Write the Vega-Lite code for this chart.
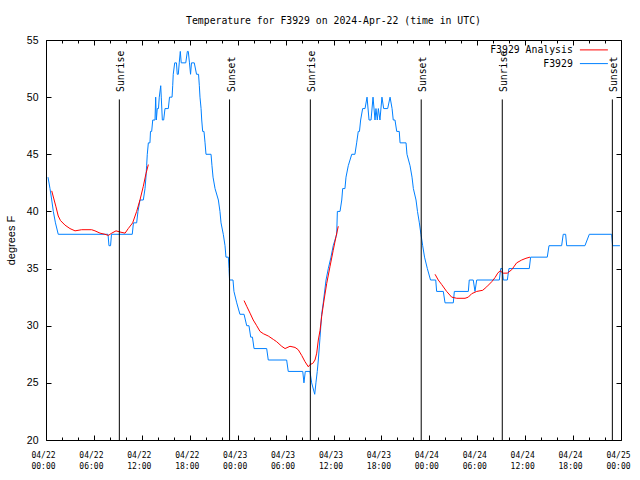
{
  "$schema": "https://vega.github.io/schema/vega-lite/v6.json",
  "width": 575,
  "height": 400,
  "autosize": {"type": "none"},
  "padding": {"left": 46, "top": 40, "right": 19, "bottom": 40},
  "background": "white",
  "config": {
    "view": {"stroke": "#000", "strokeWidth": 1},
    "axis": {"tickColor": "#000", "tickWidth": 1, "labelColor": "#000", "titleColor": "#000", "domain": false, "grid": false}
  },
  "title": {
    "text": "Temperature for F3929 on 2024-Apr-22 (time in UTC)",
    "font": "DejaVu Sans Mono",
    "fontSize": 9.8,
    "fontWeight": "normal",
    "color": "#000",
    "anchor": "middle",
    "offset": 9
  },
  "datasets": {
    "obs": [
      {"s": "F3929", "g": 1, "t": "2024-04-22T00:15Z", "v": 43},
      {"s": "F3929", "g": 1, "t": "2024-04-22T00:30Z", "v": 42},
      {"s": "F3929", "g": 1, "t": "2024-04-22T00:43Z", "v": 41},
      {"s": "F3929", "g": 1, "t": "2024-04-22T00:55Z", "v": 40},
      {"s": "F3929", "g": 1, "t": "2024-04-22T01:11Z", "v": 39},
      {"s": "F3929", "g": 1, "t": "2024-04-22T01:32Z", "v": 38},
      {"s": "F3929", "g": 1, "t": "2024-04-22T07:46Z", "v": 38},
      {"s": "F3929", "g": 1, "t": "2024-04-22T07:53Z", "v": 37},
      {"s": "F3929", "g": 1, "t": "2024-04-22T08:05Z", "v": 37},
      {"s": "F3929", "g": 1, "t": "2024-04-22T08:12Z", "v": 38},
      {"s": "F3929", "g": 1, "t": "2024-04-22T10:48Z", "v": 38},
      {"s": "F3929", "g": 1, "t": "2024-04-22T10:57Z", "v": 39},
      {"s": "F3929", "g": 1, "t": "2024-04-22T11:21Z", "v": 39},
      {"s": "F3929", "g": 1, "t": "2024-04-22T11:31Z", "v": 40},
      {"s": "F3929", "g": 1, "t": "2024-04-22T11:46Z", "v": 41},
      {"s": "F3929", "g": 1, "t": "2024-04-22T12:11Z", "v": 41},
      {"s": "F3929", "g": 1, "t": "2024-04-22T12:24Z", "v": 42},
      {"s": "F3929", "g": 1, "t": "2024-04-22T12:31Z", "v": 43},
      {"s": "F3929", "g": 1, "t": "2024-04-22T12:36Z", "v": 44},
      {"s": "F3929", "g": 1, "t": "2024-04-22T12:41Z", "v": 45},
      {"s": "F3929", "g": 1, "t": "2024-04-22T12:49Z", "v": 46},
      {"s": "F3929", "g": 1, "t": "2024-04-22T13:01Z", "v": 46},
      {"s": "F3929", "g": 1, "t": "2024-04-22T13:05Z", "v": 47},
      {"s": "F3929", "g": 1, "t": "2024-04-22T13:14Z", "v": 47},
      {"s": "F3929", "g": 1, "t": "2024-04-22T13:22Z", "v": 48},
      {"s": "F3929", "g": 1, "t": "2024-04-22T13:39Z", "v": 48},
      {"s": "F3929", "g": 1, "t": "2024-04-22T13:44Z", "v": 50},
      {"s": "F3929", "g": 1, "t": "2024-04-22T13:49Z", "v": 48},
      {"s": "F3929", "g": 1, "t": "2024-04-22T13:56Z", "v": 49},
      {"s": "F3929", "g": 1, "t": "2024-04-22T14:05Z", "v": 49},
      {"s": "F3929", "g": 1, "t": "2024-04-22T14:11Z", "v": 50},
      {"s": "F3929", "g": 1, "t": "2024-04-22T14:22Z", "v": 51},
      {"s": "F3929", "g": 1, "t": "2024-04-22T14:26Z", "v": 50},
      {"s": "F3929", "g": 1, "t": "2024-04-22T14:34Z", "v": 48},
      {"s": "F3929", "g": 1, "t": "2024-04-22T14:44Z", "v": 48},
      {"s": "F3929", "g": 1, "t": "2024-04-22T14:54Z", "v": 49},
      {"s": "F3929", "g": 1, "t": "2024-04-22T15:19Z", "v": 49},
      {"s": "F3929", "g": 1, "t": "2024-04-22T15:28Z", "v": 50},
      {"s": "F3929", "g": 1, "t": "2024-04-22T15:47Z", "v": 50},
      {"s": "F3929", "g": 1, "t": "2024-04-22T15:52Z", "v": 51},
      {"s": "F3929", "g": 1, "t": "2024-04-22T15:56Z", "v": 52},
      {"s": "F3929", "g": 1, "t": "2024-04-22T16:07Z", "v": 53},
      {"s": "F3929", "g": 1, "t": "2024-04-22T16:20Z", "v": 53},
      {"s": "F3929", "g": 1, "t": "2024-04-22T16:26Z", "v": 52},
      {"s": "F3929", "g": 1, "t": "2024-04-22T16:34Z", "v": 52},
      {"s": "F3929", "g": 1, "t": "2024-04-22T16:41Z", "v": 53},
      {"s": "F3929", "g": 1, "t": "2024-04-22T16:49Z", "v": 54},
      {"s": "F3929", "g": 1, "t": "2024-04-22T16:56Z", "v": 53},
      {"s": "F3929", "g": 1, "t": "2024-04-22T17:30Z", "v": 53},
      {"s": "F3929", "g": 1, "t": "2024-04-22T17:42Z", "v": 54},
      {"s": "F3929", "g": 1, "t": "2024-04-22T17:49Z", "v": 54},
      {"s": "F3929", "g": 1, "t": "2024-04-22T17:58Z", "v": 53},
      {"s": "F3929", "g": 1, "t": "2024-04-22T18:06Z", "v": 52},
      {"s": "F3929", "g": 1, "t": "2024-04-22T18:13Z", "v": 53},
      {"s": "F3929", "g": 1, "t": "2024-04-22T18:34Z", "v": 53},
      {"s": "F3929", "g": 1, "t": "2024-04-22T18:51Z", "v": 52},
      {"s": "F3929", "g": 1, "t": "2024-04-22T19:06Z", "v": 52},
      {"s": "F3929", "g": 1, "t": "2024-04-22T19:12Z", "v": 51},
      {"s": "F3929", "g": 1, "t": "2024-04-22T19:17Z", "v": 50},
      {"s": "F3929", "g": 1, "t": "2024-04-22T19:25Z", "v": 49},
      {"s": "F3929", "g": 1, "t": "2024-04-22T19:30Z", "v": 48},
      {"s": "F3929", "g": 1, "t": "2024-04-22T19:37Z", "v": 47},
      {"s": "F3929", "g": 1, "t": "2024-04-22T19:47Z", "v": 47},
      {"s": "F3929", "g": 1, "t": "2024-04-22T19:55Z", "v": 46},
      {"s": "F3929", "g": 1, "t": "2024-04-22T20:02Z", "v": 45},
      {"s": "F3929", "g": 1, "t": "2024-04-22T20:40Z", "v": 45},
      {"s": "F3929", "g": 1, "t": "2024-04-22T20:47Z", "v": 44},
      {"s": "F3929", "g": 1, "t": "2024-04-22T20:55Z", "v": 43},
      {"s": "F3929", "g": 1, "t": "2024-04-22T21:10Z", "v": 42},
      {"s": "F3929", "g": 1, "t": "2024-04-22T21:35Z", "v": 41},
      {"s": "F3929", "g": 1, "t": "2024-04-22T21:47Z", "v": 40},
      {"s": "F3929", "g": 1, "t": "2024-04-22T21:55Z", "v": 39},
      {"s": "F3929", "g": 1, "t": "2024-04-22T22:12Z", "v": 38},
      {"s": "F3929", "g": 1, "t": "2024-04-22T22:25Z", "v": 37},
      {"s": "F3929", "g": 1, "t": "2024-04-22T22:32Z", "v": 36},
      {"s": "F3929", "g": 1, "t": "2024-04-22T22:50Z", "v": 36},
      {"s": "F3929", "g": 1, "t": "2024-04-22T22:55Z", "v": 35},
      {"s": "F3929", "g": 1, "t": "2024-04-22T22:59Z", "v": 34},
      {"s": "F3929", "g": 1, "t": "2024-04-22T23:25Z", "v": 34},
      {"s": "F3929", "g": 1, "t": "2024-04-22T23:32Z", "v": 33},
      {"s": "F3929", "g": 1, "t": "2024-04-22T23:53Z", "v": 32},
      {"s": "F3929", "g": 1, "t": "2024-04-23T00:17Z", "v": 31},
      {"s": "F3929", "g": 1, "t": "2024-04-23T00:48Z", "v": 31},
      {"s": "F3929", "g": 1, "t": "2024-04-23T01:08Z", "v": 30},
      {"s": "F3929", "g": 1, "t": "2024-04-23T01:25Z", "v": 30},
      {"s": "F3929", "g": 1, "t": "2024-04-23T01:38Z", "v": 29},
      {"s": "F3929", "g": 1, "t": "2024-04-23T01:51Z", "v": 29},
      {"s": "F3929", "g": 1, "t": "2024-04-23T02:03Z", "v": 28},
      {"s": "F3929", "g": 1, "t": "2024-04-23T03:38Z", "v": 28},
      {"s": "F3929", "g": 1, "t": "2024-04-23T03:50Z", "v": 27},
      {"s": "F3929", "g": 1, "t": "2024-04-23T06:08Z", "v": 27},
      {"s": "F3929", "g": 1, "t": "2024-04-23T06:20Z", "v": 26},
      {"s": "F3929", "g": 1, "t": "2024-04-23T08:09Z", "v": 26},
      {"s": "F3929", "g": 1, "t": "2024-04-23T08:18Z", "v": 25},
      {"s": "F3929", "g": 1, "t": "2024-04-23T08:28Z", "v": 26},
      {"s": "F3929", "g": 1, "t": "2024-04-23T09:03Z", "v": 26},
      {"s": "F3929", "g": 1, "t": "2024-04-23T09:16Z", "v": 25},
      {"s": "F3929", "g": 1, "t": "2024-04-23T09:39Z", "v": 24},
      {"s": "F3929", "g": 1, "t": "2024-04-23T09:48Z", "v": 25},
      {"s": "F3929", "g": 1, "t": "2024-04-23T09:58Z", "v": 26},
      {"s": "F3929", "g": 1, "t": "2024-04-23T10:06Z", "v": 27},
      {"s": "F3929", "g": 1, "t": "2024-04-23T10:19Z", "v": 29},
      {"s": "F3929", "g": 1, "t": "2024-04-23T10:31Z", "v": 31},
      {"s": "F3929", "g": 1, "t": "2024-04-23T10:43Z", "v": 32},
      {"s": "F3929", "g": 1, "t": "2024-04-23T11:04Z", "v": 34},
      {"s": "F3929", "g": 1, "t": "2024-04-23T11:21Z", "v": 35},
      {"s": "F3929", "g": 1, "t": "2024-04-23T11:41Z", "v": 36},
      {"s": "F3929", "g": 1, "t": "2024-04-23T11:58Z", "v": 37},
      {"s": "F3929", "g": 1, "t": "2024-04-23T12:24Z", "v": 38},
      {"s": "F3929", "g": 1, "t": "2024-04-23T12:29Z", "v": 40},
      {"s": "F3929", "g": 1, "t": "2024-04-23T12:49Z", "v": 40},
      {"s": "F3929", "g": 1, "t": "2024-04-23T13:02Z", "v": 41},
      {"s": "F3929", "g": 1, "t": "2024-04-23T13:09Z", "v": 42},
      {"s": "F3929", "g": 1, "t": "2024-04-23T13:26Z", "v": 42},
      {"s": "F3929", "g": 1, "t": "2024-04-23T13:34Z", "v": 43},
      {"s": "F3929", "g": 1, "t": "2024-04-23T13:51Z", "v": 44},
      {"s": "F3929", "g": 1, "t": "2024-04-23T14:17Z", "v": 45},
      {"s": "F3929", "g": 1, "t": "2024-04-23T14:41Z", "v": 45},
      {"s": "F3929", "g": 1, "t": "2024-04-23T14:54Z", "v": 46},
      {"s": "F3929", "g": 1, "t": "2024-04-23T15:06Z", "v": 47},
      {"s": "F3929", "g": 1, "t": "2024-04-23T15:15Z", "v": 47},
      {"s": "F3929", "g": 1, "t": "2024-04-23T15:24Z", "v": 48},
      {"s": "F3929", "g": 1, "t": "2024-04-23T15:39Z", "v": 49},
      {"s": "F3929", "g": 1, "t": "2024-04-23T15:57Z", "v": 49},
      {"s": "F3929", "g": 1, "t": "2024-04-23T16:12Z", "v": 50},
      {"s": "F3929", "g": 1, "t": "2024-04-23T16:27Z", "v": 48},
      {"s": "F3929", "g": 1, "t": "2024-04-23T16:42Z", "v": 48},
      {"s": "F3929", "g": 1, "t": "2024-04-23T16:57Z", "v": 50},
      {"s": "F3929", "g": 1, "t": "2024-04-23T17:12Z", "v": 48},
      {"s": "F3929", "g": 1, "t": "2024-04-23T17:19Z", "v": 49},
      {"s": "F3929", "g": 1, "t": "2024-04-23T17:29Z", "v": 48},
      {"s": "F3929", "g": 1, "t": "2024-04-23T17:37Z", "v": 49},
      {"s": "F3929", "g": 1, "t": "2024-04-23T17:49Z", "v": 48},
      {"s": "F3929", "g": 1, "t": "2024-04-23T18:04Z", "v": 50},
      {"s": "F3929", "g": 1, "t": "2024-04-23T18:17Z", "v": 49},
      {"s": "F3929", "g": 1, "t": "2024-04-23T18:47Z", "v": 49},
      {"s": "F3929", "g": 1, "t": "2024-04-23T19:05Z", "v": 50},
      {"s": "F3929", "g": 1, "t": "2024-04-23T19:20Z", "v": 49},
      {"s": "F3929", "g": 1, "t": "2024-04-23T19:29Z", "v": 48},
      {"s": "F3929", "g": 1, "t": "2024-04-23T19:42Z", "v": 48},
      {"s": "F3929", "g": 1, "t": "2024-04-23T19:55Z", "v": 47},
      {"s": "F3929", "g": 1, "t": "2024-04-23T20:14Z", "v": 47},
      {"s": "F3929", "g": 1, "t": "2024-04-23T20:20Z", "v": 46},
      {"s": "F3929", "g": 1, "t": "2024-04-23T21:05Z", "v": 46},
      {"s": "F3929", "g": 1, "t": "2024-04-23T21:12Z", "v": 45},
      {"s": "F3929", "g": 1, "t": "2024-04-23T21:35Z", "v": 44},
      {"s": "F3929", "g": 1, "t": "2024-04-23T21:50Z", "v": 43},
      {"s": "F3929", "g": 1, "t": "2024-04-23T22:00Z", "v": 42},
      {"s": "F3929", "g": 1, "t": "2024-04-23T22:20Z", "v": 41},
      {"s": "F3929", "g": 1, "t": "2024-04-23T22:31Z", "v": 40},
      {"s": "F3929", "g": 1, "t": "2024-04-23T22:45Z", "v": 39},
      {"s": "F3929", "g": 1, "t": "2024-04-23T22:57Z", "v": 38},
      {"s": "F3929", "g": 1, "t": "2024-04-23T23:10Z", "v": 37},
      {"s": "F3929", "g": 1, "t": "2024-04-23T23:24Z", "v": 36},
      {"s": "F3929", "g": 1, "t": "2024-04-23T23:45Z", "v": 35},
      {"s": "F3929", "g": 1, "t": "2024-04-24T00:09Z", "v": 34},
      {"s": "F3929", "g": 1, "t": "2024-04-24T00:48Z", "v": 34},
      {"s": "F3929", "g": 1, "t": "2024-04-24T00:55Z", "v": 33},
      {"s": "F3929", "g": 1, "t": "2024-04-24T01:45Z", "v": 33},
      {"s": "F3929", "g": 1, "t": "2024-04-24T01:58Z", "v": 32},
      {"s": "F3929", "g": 1, "t": "2024-04-24T03:00Z", "v": 32},
      {"s": "F3929", "g": 1, "t": "2024-04-24T03:08Z", "v": 33},
      {"s": "F3929", "g": 1, "t": "2024-04-24T04:53Z", "v": 33},
      {"s": "F3929", "g": 1, "t": "2024-04-24T05:00Z", "v": 34},
      {"s": "F3929", "g": 1, "t": "2024-04-24T05:30Z", "v": 34},
      {"s": "F3929", "g": 1, "t": "2024-04-24T05:43Z", "v": 33},
      {"s": "F3929", "g": 1, "t": "2024-04-24T05:56Z", "v": 34},
      {"s": "F3929", "g": 1, "t": "2024-04-24T08:46Z", "v": 34},
      {"s": "F3929", "g": 1, "t": "2024-04-24T08:56Z", "v": 35},
      {"s": "F3929", "g": 1, "t": "2024-04-24T09:08Z", "v": 35},
      {"s": "F3929", "g": 1, "t": "2024-04-24T09:16Z", "v": 34},
      {"s": "F3929", "g": 1, "t": "2024-04-24T09:46Z", "v": 34},
      {"s": "F3929", "g": 1, "t": "2024-04-24T09:58Z", "v": 35},
      {"s": "F3929", "g": 1, "t": "2024-04-24T12:31Z", "v": 35},
      {"s": "F3929", "g": 1, "t": "2024-04-24T12:41Z", "v": 36},
      {"s": "F3929", "g": 1, "t": "2024-04-24T14:46Z", "v": 36},
      {"s": "F3929", "g": 1, "t": "2024-04-24T14:59Z", "v": 37},
      {"s": "F3929", "g": 1, "t": "2024-04-24T16:34Z", "v": 37},
      {"s": "F3929", "g": 1, "t": "2024-04-24T16:46Z", "v": 38},
      {"s": "F3929", "g": 1, "t": "2024-04-24T17:04Z", "v": 38},
      {"s": "F3929", "g": 1, "t": "2024-04-24T17:12Z", "v": 37},
      {"s": "F3929", "g": 1, "t": "2024-04-24T19:29Z", "v": 37},
      {"s": "F3929", "g": 1, "t": "2024-04-24T20:02Z", "v": 38},
      {"s": "F3929", "g": 1, "t": "2024-04-24T22:50Z", "v": 38},
      {"s": "F3929", "g": 1, "t": "2024-04-24T22:57Z", "v": 37},
      {"s": "F3929", "g": 1, "t": "2024-04-24T23:52Z", "v": 37},

      {"s": "F3929 Analysis", "g": 2, "t": "2024-04-22T00:43Z", "v": 41.8},
      {"s": "F3929 Analysis", "g": 2, "t": "2024-04-22T01:15Z", "v": 40.4},
      {"s": "F3929 Analysis", "g": 2, "t": "2024-04-22T01:32Z", "v": 39.6},
      {"s": "F3929 Analysis", "g": 2, "t": "2024-04-22T01:49Z", "v": 39.2},
      {"s": "F3929 Analysis", "g": 2, "t": "2024-04-22T02:23Z", "v": 38.8},
      {"s": "F3929 Analysis", "g": 2, "t": "2024-04-22T03:00Z", "v": 38.5},
      {"s": "F3929 Analysis", "g": 2, "t": "2024-04-22T03:38Z", "v": 38.3},
      {"s": "F3929 Analysis", "g": 2, "t": "2024-04-22T04:28Z", "v": 38.4},
      {"s": "F3929 Analysis", "g": 2, "t": "2024-04-22T05:43Z", "v": 38.4},
      {"s": "F3929 Analysis", "g": 2, "t": "2024-04-22T06:08Z", "v": 38.3},
      {"s": "F3929 Analysis", "g": 2, "t": "2024-04-22T06:46Z", "v": 38.1},
      {"s": "F3929 Analysis", "g": 2, "t": "2024-04-22T07:23Z", "v": 38.0},
      {"s": "F3929 Analysis", "g": 2, "t": "2024-04-22T07:48Z", "v": 37.9},
      {"s": "F3929 Analysis", "g": 2, "t": "2024-04-22T08:14Z", "v": 38.1},
      {"s": "F3929 Analysis", "g": 2, "t": "2024-04-22T08:46Z", "v": 38.3},
      {"s": "F3929 Analysis", "g": 2, "t": "2024-04-22T09:16Z", "v": 38.2},
      {"s": "F3929 Analysis", "g": 2, "t": "2024-04-22T09:54Z", "v": 38.1},
      {"s": "F3929 Analysis", "g": 2, "t": "2024-04-22T10:18Z", "v": 38.5},
      {"s": "F3929 Analysis", "g": 2, "t": "2024-04-22T10:51Z", "v": 39.0},
      {"s": "F3929 Analysis", "g": 2, "t": "2024-04-22T11:21Z", "v": 40.0},
      {"s": "F3929 Analysis", "g": 2, "t": "2024-04-22T11:46Z", "v": 41.0},
      {"s": "F3929 Analysis", "g": 2, "t": "2024-04-22T12:11Z", "v": 42.2},
      {"s": "F3929 Analysis", "g": 2, "t": "2024-04-22T12:31Z", "v": 43.3},
      {"s": "F3929 Analysis", "g": 2, "t": "2024-04-22T12:49Z", "v": 44.1},

      {"s": "F3929 Analysis", "g": 3, "t": "2024-04-23T00:48Z", "v": 32.2},
      {"s": "F3929 Analysis", "g": 3, "t": "2024-04-23T01:08Z", "v": 31.7},
      {"s": "F3929 Analysis", "g": 3, "t": "2024-04-23T01:33Z", "v": 31.1},
      {"s": "F3929 Analysis", "g": 3, "t": "2024-04-23T01:57Z", "v": 30.5},
      {"s": "F3929 Analysis", "g": 3, "t": "2024-04-23T02:23Z", "v": 30.0},
      {"s": "F3929 Analysis", "g": 3, "t": "2024-04-23T02:48Z", "v": 29.5},
      {"s": "F3929 Analysis", "g": 3, "t": "2024-04-23T03:13Z", "v": 29.3},
      {"s": "F3929 Analysis", "g": 3, "t": "2024-04-23T03:50Z", "v": 29.1},
      {"s": "F3929 Analysis", "g": 3, "t": "2024-04-23T04:28Z", "v": 28.8},
      {"s": "F3929 Analysis", "g": 3, "t": "2024-04-23T04:53Z", "v": 28.6},
      {"s": "F3929 Analysis", "g": 3, "t": "2024-04-23T05:31Z", "v": 28.2},
      {"s": "F3929 Analysis", "g": 3, "t": "2024-04-23T05:56Z", "v": 28.0},
      {"s": "F3929 Analysis", "g": 3, "t": "2024-04-23T06:33Z", "v": 28.2},
      {"s": "F3929 Analysis", "g": 3, "t": "2024-04-23T07:11Z", "v": 28.1},
      {"s": "F3929 Analysis", "g": 3, "t": "2024-04-23T07:35Z", "v": 27.9},
      {"s": "F3929 Analysis", "g": 3, "t": "2024-04-23T08:01Z", "v": 27.4},
      {"s": "F3929 Analysis", "g": 3, "t": "2024-04-23T08:26Z", "v": 26.85},
      {"s": "F3929 Analysis", "g": 3, "t": "2024-04-23T08:51Z", "v": 26.4},
      {"s": "F3929 Analysis", "g": 3, "t": "2024-04-23T09:03Z", "v": 26.6},
      {"s": "F3929 Analysis", "g": 3, "t": "2024-04-23T09:24Z", "v": 26.7},
      {"s": "F3929 Analysis", "g": 3, "t": "2024-04-23T09:41Z", "v": 27.0},
      {"s": "F3929 Analysis", "g": 3, "t": "2024-04-23T09:54Z", "v": 27.6},
      {"s": "F3929 Analysis", "g": 3, "t": "2024-04-23T10:06Z", "v": 28.75},
      {"s": "F3929 Analysis", "g": 3, "t": "2024-04-23T10:19Z", "v": 29.6},
      {"s": "F3929 Analysis", "g": 3, "t": "2024-04-23T10:31Z", "v": 30.8},
      {"s": "F3929 Analysis", "g": 3, "t": "2024-04-23T10:49Z", "v": 32.25},
      {"s": "F3929 Analysis", "g": 3, "t": "2024-04-23T11:09Z", "v": 33.7},
      {"s": "F3929 Analysis", "g": 3, "t": "2024-04-23T11:34Z", "v": 35.2},
      {"s": "F3929 Analysis", "g": 3, "t": "2024-04-23T11:58Z", "v": 36.6},
      {"s": "F3929 Analysis", "g": 3, "t": "2024-04-23T12:19Z", "v": 37.8},
      {"s": "F3929 Analysis", "g": 3, "t": "2024-04-23T12:36Z", "v": 38.7},

      {"s": "F3929 Analysis", "g": 4, "t": "2024-04-24T00:43Z", "v": 34.5},
      {"s": "F3929 Analysis", "g": 4, "t": "2024-04-24T01:07Z", "v": 34.0},
      {"s": "F3929 Analysis", "g": 4, "t": "2024-04-24T01:33Z", "v": 33.6},
      {"s": "F3929 Analysis", "g": 4, "t": "2024-04-24T02:10Z", "v": 33.0},
      {"s": "F3929 Analysis", "g": 4, "t": "2024-04-24T02:48Z", "v": 32.5},
      {"s": "F3929 Analysis", "g": 4, "t": "2024-04-24T03:26Z", "v": 32.4},
      {"s": "F3929 Analysis", "g": 4, "t": "2024-04-24T04:28Z", "v": 32.4},
      {"s": "F3929 Analysis", "g": 4, "t": "2024-04-24T04:53Z", "v": 32.5},
      {"s": "F3929 Analysis", "g": 4, "t": "2024-04-24T05:18Z", "v": 32.8},
      {"s": "F3929 Analysis", "g": 4, "t": "2024-04-24T05:56Z", "v": 33.0},
      {"s": "F3929 Analysis", "g": 4, "t": "2024-04-24T06:41Z", "v": 33.1},
      {"s": "F3929 Analysis", "g": 4, "t": "2024-04-24T07:11Z", "v": 33.4},
      {"s": "F3929 Analysis", "g": 4, "t": "2024-04-24T07:49Z", "v": 33.85},
      {"s": "F3929 Analysis", "g": 4, "t": "2024-04-24T08:13Z", "v": 34.2},
      {"s": "F3929 Analysis", "g": 4, "t": "2024-04-24T08:34Z", "v": 34.6},
      {"s": "F3929 Analysis", "g": 4, "t": "2024-04-24T08:51Z", "v": 34.8},
      {"s": "F3929 Analysis", "g": 4, "t": "2024-04-24T09:16Z", "v": 34.6},
      {"s": "F3929 Analysis", "g": 4, "t": "2024-04-24T09:46Z", "v": 34.6},
      {"s": "F3929 Analysis", "g": 4, "t": "2024-04-24T10:19Z", "v": 34.9},
      {"s": "F3929 Analysis", "g": 4, "t": "2024-04-24T10:56Z", "v": 35.5},
      {"s": "F3929 Analysis", "g": 4, "t": "2024-04-24T11:34Z", "v": 35.75},
      {"s": "F3929 Analysis", "g": 4, "t": "2024-04-24T12:06Z", "v": 35.9},
      {"s": "F3929 Analysis", "g": 4, "t": "2024-04-24T12:36Z", "v": 36.0}
    ],
    "sun": [
      {"t": "2024-04-22T09:11Z", "e": "Sunrise"},
      {"t": "2024-04-22T22:59Z", "e": "Sunset"},
      {"t": "2024-04-23T09:06Z", "e": "Sunrise"},
      {"t": "2024-04-23T22:59Z", "e": "Sunset"},
      {"t": "2024-04-24T09:08Z", "e": "Sunrise"},
      {"t": "2024-04-24T22:55Z", "e": "Sunset"}
    ]
  },
  "layer": [
    {
      "data": {"name": "obs"},
      "mark": {"type": "line", "strokeWidth": 1, "interpolate": "linear"},
      "encoding": {
        "x": {
          "field": "t", "type": "temporal",
          "scale": {"type": "utc", "domain": [{"year": 2024, "month": 4, "date": 22, "utc": true}, {"year": 2024, "month": 4, "date": 25, "utc": true}]},
          "axis": {
            "orient": "bottom",
            "title": null,
            "values": [1713744000000, 1713751200000, 1713758400000, 1713765600000, 1713772800000, 1713780000000, 1713787200000, 1713794400000, 1713801600000, 1713808800000, 1713816000000, 1713823200000, 1713830400000, 1713837600000, 1713844800000, 1713852000000, 1713859200000, 1713866400000, 1713873600000, 1713880800000, 1713888000000, 1713895200000, 1713902400000, 1713909600000, 1713916800000, 1713924000000, 1713931200000, 1713938400000, 1713945600000, 1713952800000, 1713960000000, 1713967200000, 1713974400000, 1713981600000, 1713988800000, 1713996000000, 1714003200000],
            "labelExpr": "utchours(datum.value) % 6 == 0 ? [utcFormat(datum.value, '%m/%d'), utcFormat(datum.value, '%H:%M')] : ''",
            "tickSize": {"condition": {"test": "utchours(datum.value) % 6 == 0", "value": -5}, "value": -3},
            "labelFont": "DejaVu Sans Mono",
            "labelFontSize": 8,
            "labelLineHeight": 11,
            "labelBaseline": "top",
            "labelPadding": 16,
            "labelOffset": -3,
            "labelOverlap": false,
            "labelBound": false,
            "labelFlush": false
          }
        },
        "y": {
          "field": "v", "type": "quantitative",
          "scale": {"domain": [20, 55], "zero": false, "nice": false},
          "axis": {
            "orient": "left",
            "values": [20, 25, 30, 35, 40, 45, 50, 55],
            "tickSize": -5,
            "labelFont": "Liberation Sans",
            "labelFontSize": 10.5,
            "labelPadding": 13,
            "title": "degrees F",
            "titleFont": "Liberation Sans",
            "titleFontSize": 11,
            "titleFontWeight": "normal",
            "titleAngle": 270,
            "titleX": -35,
            "titleY": 200,
            "titleAlign": "center",
            "titleBaseline": "middle"
          }
        },
        "color": {
          "field": "s", "type": "nominal",
          "scale": {"domain": ["F3929 Analysis", "F3929"], "range": ["#ff0000", "#0080ff"]},
          "legend": {
            "orient": "none",
            "legendX": 535,
            "legendY": 5,
            "title": null,
            "symbolType": "M-5.6,0H5.6",
            "symbolSize": 25,
            "symbolStrokeWidth": 1,
            "symbolOffset": 8,
            "labelAlign": "right",
            "labelOffset": -26,
            "labelFont": "DejaVu Sans Mono",
            "labelFontSize": 9.8,
            "labelColor": "#000",
            "rowPadding": 2.7,
            "padding": 0
          }
        },
        "detail": {"field": "g", "type": "nominal"}
      }
    },
    {
      "data": {"name": "obs"},
      "mark": {"type": "point", "opacity": 0},
      "encoding": {
        "x": {
          "field": "t", "type": "temporal",
          "axis": {
            "orient": "top",
            "title": null,
            "labels": false,
            "values": [1713744000000, 1713751200000, 1713758400000, 1713765600000, 1713772800000, 1713780000000, 1713787200000, 1713794400000, 1713801600000, 1713808800000, 1713816000000, 1713823200000, 1713830400000, 1713837600000, 1713844800000, 1713852000000, 1713859200000, 1713866400000, 1713873600000, 1713880800000, 1713888000000, 1713895200000, 1713902400000, 1713909600000, 1713916800000, 1713924000000, 1713931200000, 1713938400000, 1713945600000, 1713952800000, 1713960000000, 1713967200000, 1713974400000, 1713981600000, 1713988800000, 1713996000000, 1714003200000],
            "tickSize": {"condition": {"test": "utchours(datum.value) % 6 == 0", "value": -5}, "value": -3}
          }
        },
        "y": {
          "field": "v", "type": "quantitative",
          "axis": {"orient": "right", "title": null, "labels": false, "values": [20, 25, 30, 35, 40, 45, 50, 55], "tickSize": -5}
        }
      }
    },
    {
      "data": {"name": "sun"},
      "mark": {"type": "rule", "color": "#000", "strokeWidth": 1},
      "encoding": {
        "x": {"field": "t", "type": "temporal", "axis": null},
        "y": {"datum": 20, "type": "quantitative", "axis": null},
        "y2": {"datum": 49.8}
      }
    },
    {
      "data": {"name": "sun"},
      "mark": {"type": "text", "angle": 270, "align": "left", "baseline": "alphabetic", "dy": 5, "font": "DejaVu Sans Mono", "fontSize": 9.8, "color": "#000"},
      "encoding": {
        "x": {"field": "t", "type": "temporal", "axis": null},
        "y": {"datum": 50.45, "type": "quantitative", "axis": null},
        "text": {"field": "e", "type": "nominal"}
      }
    }
  ],
  "resolve": {"axis": {"x": "independent", "y": "independent"}}
}
